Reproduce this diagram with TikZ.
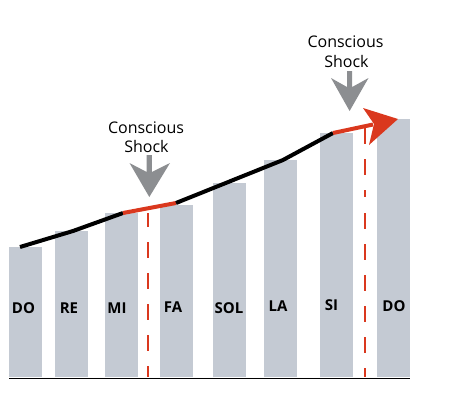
\documentclass[tikz,border=0pt]{standalone}
\usepackage{fontspec}
\setmainfont{Open Sans}
\definecolor{barc}{RGB}{196,202,211}
\definecolor{redc}{RGB}{218,56,30}
\definecolor{grayc}{RGB}{140,142,145}
\tikzset{
  bar/.style={fill=barc, draw=none},
  lab/.style={font=\bfseries\fontsize{15}{17}\selectfont, inner sep=0pt, anchor=base},
  shocktext/.style={font=\fontsize{16}{20}\selectfont, align=center, inner sep=0pt, anchor=base},
  blackline/.style={line width=4pt, black, line join=round},
  redline/.style={line width=4pt, redc},
  reddash/.style={line width=2.2pt, redc, dash pattern=on 16pt off 15pt},
}
\begin{document}
\begin{tikzpicture}[x=1pt,y=-1pt]
\useasboundingbox (0,0) rectangle (461,397);
% bars
\foreach \xl/\xr/\yt in {9/42/247, 55/88/231, 105/138/213, 160/193/205, 213/246/183, 264/297/160, 320/353/133, 377/410/119}
  \fill[bar] (\xl,\yt) rectangle (\xr,377);
% baseline
\draw[line width=1.6pt, black] (9,378.5) -- (410,378.5);
% dashed verticals
\draw[reddash, dash phase=2pt] (148,213) -- (148,377);
\draw[reddash, dash phase=0pt] (365,213) -- (365,377);
\draw[reddash] (365,128) -- (365,197);
% line
\coordinate (p0) at (20,247);
\coordinate (p1) at (73,231);
\coordinate (p2) at (123,213);
\coordinate (p3) at (176,203);
\coordinate (p4) at (283,160);
\coordinate (p5) at (333,133);
\coordinate (tip) at (398,119);
\draw[blackline] (p0) -- (p1) -- (p2);
\draw[redline] (p2) -- (p3);
\draw[blackline] (p3) -- (p4) -- (p5);
\draw[redline] (p5) -- (373,124.5);
\fill[redc] (tip) -- (363,108) -- (374,124) -- (369,145) -- cycle;
% gray arrows
\fill[grayc] (146.7,155) -- (151.9,155) -- (151.9,172) -- (170,163) -- (149.3,197) -- (129.5,163) -- (146.7,172) -- cycle;
\fill[grayc] (347,71) -- (352.2,71) -- (352.2,87) -- (368.5,78) -- (349.6,111) -- (331,78) -- (347,87) -- cycle;
% texts
\node[shocktext] (t1a) at (146,133) {Conscious};
\node[shocktext] (t1b) at (146.5,152) {Shock};
\node[shocktext] (t2a) at (345.5,47) {Conscious};
\node[shocktext] (t2b) at (346.5,67) {Shock};
% labels
\node[lab] (l1) at (23.5,313) {DO};
\node[lab] (l2) at (69,313) {RE};
\node[lab] (l3) at (117,313) {MI};
\node[lab] (l4) at (173,312) {FA};
\node[lab] (l5) at (229,313) {SOL};
\node[lab] (l6) at (278,311) {LA};
\node[lab] (l7) at (331.5,310) {SI};
\node[lab] (l8) at (394,311) {DO};
\end{tikzpicture}
\end{document}
